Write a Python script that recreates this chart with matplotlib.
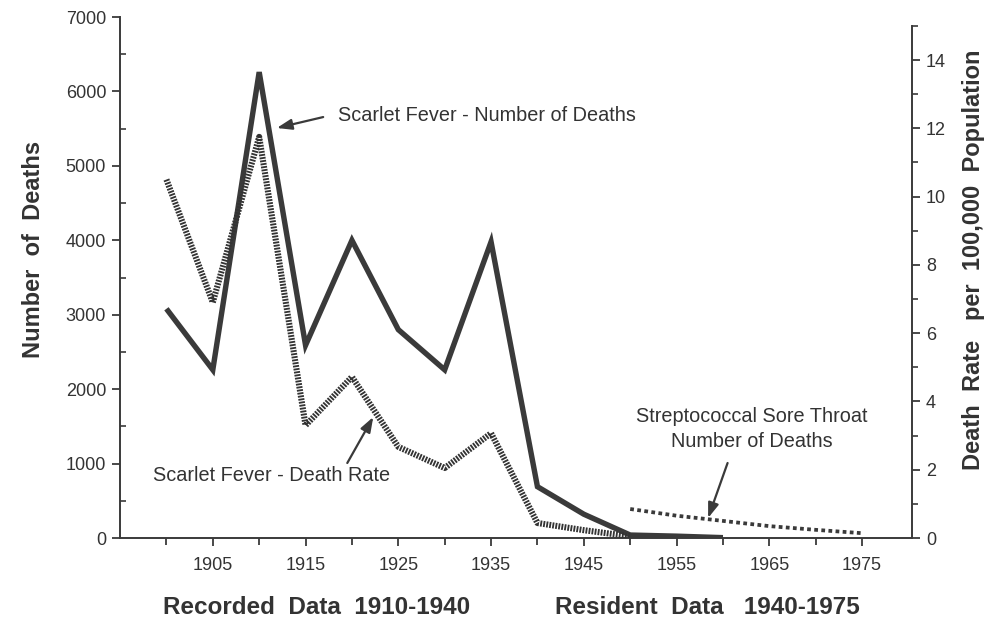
import matplotlib
matplotlib.use("Agg")
import matplotlib.pyplot as plt
from matplotlib.ticker import MultipleLocator, FixedLocator

# ---- data ----
sf_years = [1900, 1905, 1910, 1915, 1920, 1925, 1930, 1935, 1940, 1945, 1950, 1955, 1960]
sf_deaths = [3080, 2260, 6260, 2590, 4000, 2800, 2260, 3980, 690, 320, 40, 25, 5]

rate_years = [1900, 1905, 1910, 1915, 1920, 1925, 1930, 1935, 1940, 1945, 1950]
sf_rate = [10.5, 6.9, 11.75, 3.3, 4.72, 2.67, 2.05, 3.07, 0.44, 0.23, 0.05]

strep_years = [1950, 1955, 1960, 1965, 1970, 1975]
strep_deaths = [390, 300, 230, 160, 110, 65]

xtick_labels = ["1905", "1915", "1925", "1935", "1945", "1955", "1965", "1975"]
xtick_pos = [1905, 1915, 1925, 1935, 1945, 1955, 1965, 1975]

FONT = "Liberation Sans"
INK = "#333333"
LINE = "#3a3a3a"
plt.rcParams["font.family"] = [FONT, "DejaVu Sans"]

fig = plt.figure(figsize=(9.84, 6.17), dpi=100)
ax = fig.add_axes([0.122, 0.128, 0.805, 0.8444])
ax2 = ax.twinx()

ax.set_xlim(1895, 1980.4)
ax.set_ylim(0, 7000)
ax2.set_ylim(0, 15.26)

# Scarlet fever deaths (solid)
ax.plot(sf_years, sf_deaths, color=LINE, lw=3.9, solid_joinstyle="miter",
        solid_capstyle="butt", zorder=3)
# Streptococcal sore throat deaths (square dashes)
ax.plot(strep_years, strep_deaths, color=LINE, lw=2.7,
        linestyle=(0, (1.0, 0.9)), dash_capstyle="butt", zorder=3)
# Scarlet fever death rate (dense hatched line)
ax2.plot(rate_years, sf_rate, color="#333333", lw=4.4,
         linestyle=(0, (0.3, 0.2)), dash_capstyle="butt", zorder=3)

# spines
for a in (ax, ax2):
    a.spines["top"].set_visible(False)
ax.spines["right"].set_visible(False)
ax2.spines["left"].set_visible(False)
ax2.spines["bottom"].set_visible(False)
for sp in (ax.spines["left"], ax.spines["bottom"], ax2.spines["right"]):
    sp.set_linewidth(1.4)
    sp.set_color(LINE)
ax2.spines["right"].set_bounds(0, 15)

# left y ticks
ax.yaxis.set_major_locator(MultipleLocator(1000))
ax.yaxis.set_minor_locator(MultipleLocator(500))
ax.tick_params(axis="y", which="major", direction="out", length=6, width=1.3,
               color=LINE, labelsize=13, labelcolor=INK, pad=4)
ax.tick_params(axis="y", which="minor", direction="in", length=4, width=1.2, color=LINE)

# x ticks
ax.xaxis.set_major_locator(FixedLocator(xtick_pos))
ax.set_xticklabels(xtick_labels)
ax.xaxis.set_minor_locator(FixedLocator([1900, 1910, 1920, 1930, 1940, 1950, 1960, 1970]))
ax.tick_params(axis="x", which="major", direction="out", length=6, width=1.3,
               color=LINE, labelsize=13, labelcolor=INK, pad=8)
ax.tick_params(axis="x", which="minor", direction="out", length=5, width=1.3, color=LINE)

# right y ticks
ax2.yaxis.set_major_locator(FixedLocator([0, 2, 4, 6, 8, 10, 12, 14]))
ax2.yaxis.set_minor_locator(FixedLocator([1, 3, 5, 7, 9, 11, 13, 15]))
ax2.tick_params(axis="y", which="major", direction="out", length=6, width=1.3,
                color=LINE, labelsize=13, labelcolor=INK, pad=4)
ax2.tick_params(axis="y", which="minor", direction="out", length=4, width=1.2, color=LINE)

# axis labels
ax.set_ylabel("Number  of  Deaths", fontsize=17, fontweight="bold", color=INK)
ax.yaxis.set_label_coords(-0.095, 0.553)
ax2.set_ylabel("Death  Rate   per  100,000  Population", fontsize=17, fontweight="bold",
               color=INK, rotation=90)
ax2.yaxis.set_label_coords(1.063, 0.535)

fig.text(163 / 984, 1 - 607 / 617, "Recorded  Data  1910-1940", fontsize=17.5,
         fontweight="bold", color=INK, ha="left", va="center")
fig.text(555 / 984, 1 - 607 / 617, "Resident  Data   1940-1975", fontsize=17.5,
         fontweight="bold", color=INK, ha="left", va="center")

arrow = dict(arrowstyle="-|>,head_length=0.9,head_width=0.32", color=LINE, lw=1.6,
             shrinkA=0, shrinkB=0)

ax.text(1918.5, 5683, "Scarlet Fever - Number of Deaths", fontsize=14.3, color=INK,
        ha="left", va="center")
ax.annotate("", xy=(1911.9, 5509), xytext=(1916.9, 5656), arrowprops=arrow)

ax.text(1898.5, 846, "Scarlet Fever - Death Rate", fontsize=14.3, color=INK,
        ha="left", va="center")
ax.annotate("", xy=(1922.3, 1626), xytext=(1919.5, 1008), arrowprops=arrow)

ax.text(1963.1, 1464, "Streptococcal Sore Throat\nNumber of Deaths", fontsize=14.3,
        color=INK, ha="center", va="center", linespacing=1.35)
ax.annotate("", xy=(1958.4, 269), xytext=(1960.5, 1008), arrowprops=arrow)

fig.savefig("out.png", dpi=100, facecolor="white")
